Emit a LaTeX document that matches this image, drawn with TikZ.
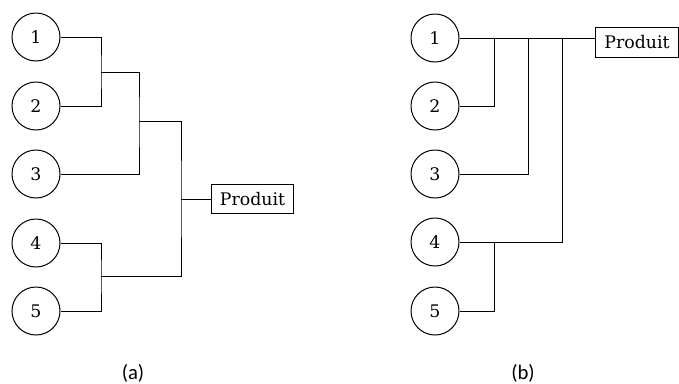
\documentclass[tikz,border=0pt]{standalone}
\usepackage{fontspec}
\setmainfont{DejaVu Serif}
\newfontfamily\capfont{Carlito}
\usetikzlibrary{positioning}

\tikzset{
  num/.style={draw,circle,minimum size=36pt,inner sep=0pt,font=\fontsize{13pt}{15pt}\selectfont},
  prodbox/.style={draw,rectangle,minimum width=62pt,minimum height=22pt,inner sep=2pt,font=\fontsize{13pt}{15pt}\selectfont},
  caption/.style={font=\capfont\fontsize{15.5pt}{18pt}\selectfont},
  link/.style={line width=0.75pt}
}

\begin{document}
\begin{tikzpicture}[x=0.75pt,y=-0.75pt,line width=0.75pt]
        \useasboundingbox (0,0) rectangle (679,383);
        % (a)
        \node[num] (a1) at (36,37) {1};
        \node[num] (a2) at (36,106) {2};
        \node[num] (a3) at (36,174) {3};
        \node[num] (a4) at (36,243) {4};
        \node[num] (a5) at (36,311) {5};
        \node[prodbox] (pa) at (252.5,199) {Produit};
        \coordinate (ja12) at (101,72);
        \coordinate (ja123) at (139,121);
        \coordinate (jall) at (181,199);
        \coordinate (ja45) at (101,276);
        \draw[link] (a1.east) -| (ja12) |- (a2.east);
        \draw[link] (ja12) -| (ja123) |- (a3.east);
        \draw[link] (ja123) -| (jall) |- (ja45);
        \draw[link] (a4.east) -| (ja45) |- (a5.east);
        \draw[link] (jall) -- (pa.west);
        \node[caption] (capa) at (133,373) {(a)};
        % (b)
        \node[num] (b1) at (435,38) {1};
        \node[num] (b2) at (435,106) {2};
        \node[num] (b3) at (435,174) {3};
        \node[num] (b4) at (435,242) {4};
        \node[num] (b5) at (435,311) {5};
        \node[prodbox] (pb) at (637,42.5) {Produit};
        \coordinate (jb2) at (494,38);
        \coordinate (jb3) at (528,38);
        \coordinate (jb4) at (562,38);
        \draw[link] (b1.east) -- (b1.east -| pb.west);
        \draw[link] (b2.east) -| (jb2);
        \draw[link] (b3.east) -| (jb3);
        \draw[link] (b4.east) -| (jb4);
        \draw[link] (b5.east) -| (b4.east -| jb2);
        \node[caption] (capb) at (523,373) {(b)};
    \end{tikzpicture}
\end{document}
